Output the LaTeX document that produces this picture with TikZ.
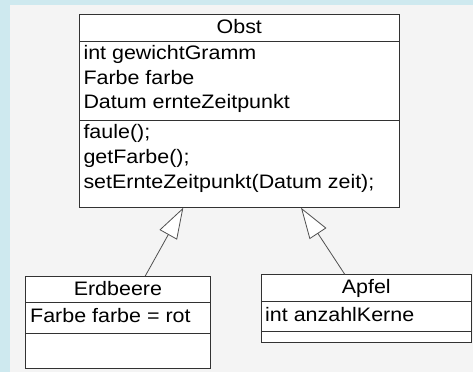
\documentclass[tikz,border=0pt]{standalone}
\usepackage{fontspec}
\setmainfont{Liberation Sans}[FakeStretch=1.1]
\usetikzlibrary{positioning,arrows.meta}

\definecolor{bgblue}{RGB}{206,233,239}
\definecolor{bggray}{RGB}{244,244,244}
\definecolor{boxline}{RGB}{50,50,50}
\definecolor{inhline}{RGB}{80,80,80}

\tikzset{
  comp/.style={draw=boxline, fill=white, line width=0.9pt, inner sep=0pt, outer sep=0pt},
  txt/.style={inner sep=0pt, font=\fontsize{19.5}{24}\selectfont},
  inherit/.style={draw=inhline, line width=0.8pt,
    -{Triangle[length=31pt, width=20pt, fill=white]}},
}

\begin{document}
\begin{tikzpicture}[x=1pt, y=-1pt]
  \useasboundingbox (0,0) rectangle (473,372);
  % Hintergrund
  \fill[bgblue] (0,0) rectangle (473,372);
  \fill[bggray] (10,5) rectangle (473,372);
  % Klasse Obst
  \node[comp, anchor=north west, minimum width=320pt, minimum height=26.7pt] (obst-name) at (79.3,14.3) {};
  \node[comp, below=0pt of obst-name, minimum width=320pt, minimum height=79.3pt] (obst-attr) {};
  \node[comp, below=0pt of obst-attr, minimum width=320pt, minimum height=87.4pt] (obst-ops) {};
  \node[txt, anchor=base] (obst-t) at (239.3,33.3) {Obst};
  \foreach \y/\s [count=\i] in {59.5/int gewichtGramm, 84.2/Farbe farbe, 108.6/Datum ernteZeitpunkt}
    \node[txt, anchor=base west] (obst-a\i) at (83.3,\y) {\s};
  \foreach \y/\s [count=\i] in {138.3/faule();, 163.2/getFarbe();, 188.1/setErnteZeitpunkt(Datum zeit);}
    \node[txt, anchor=base west] (obst-o\i) at (83.3,\y) {\s};
  % Klasse Erdbeere
  \node[comp, anchor=north west, minimum width=184.3pt, minimum height=26.7pt] (erd-name) at (25.7,276) {};
  \node[comp, below=0pt of erd-name, minimum width=184.3pt, minimum height=30.6pt] (erd-attr) {};
  \node[comp, below=0pt of erd-attr, minimum width=184.3pt, minimum height=35pt] (erd-ops) {};
  \node[txt, anchor=base] (erd-t) at (117.9,295) {Erdbeere};
  \node[txt, anchor=base west] (erd-a1) at (30,322.8) {Farbe farbe = rot};
  % Klasse Apfel
  \node[comp, anchor=north west, minimum width=210.7pt, minimum height=27.4pt] (apfel-name) at (261,274.3) {};
  \node[comp, below=0pt of apfel-name, minimum width=210.7pt, minimum height=30pt] (apfel-attr) {};
  \node[comp, below=0pt of apfel-attr, minimum width=210.7pt, minimum height=11pt] (apfel-ops) {};
  \node[txt, anchor=base] (apfel-t) at (366.3,293.3) {Apfel};
  \node[txt, anchor=base west] (apfel-a1) at (265,321.2) {int anzahlKerne};
  % Vererbung
  \draw[inherit] ([xshift=27.4pt]erd-name.north) -- ([xshift=-56pt]obst-ops.south);
  \draw[inherit] ([xshift=-21.6pt]apfel-name.north) -- ([xshift=61.7pt]obst-ops.south);
\end{tikzpicture}
\end{document}
